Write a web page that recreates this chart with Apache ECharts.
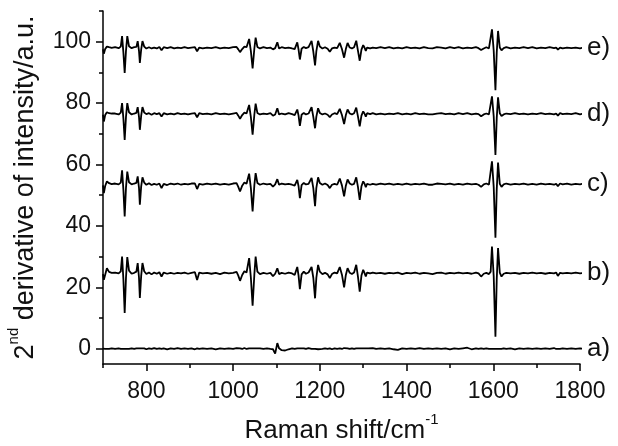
<!DOCTYPE html>
<html><head><meta charset="utf-8">
<script src="https://cdn.jsdelivr.net/npm/echarts@6/dist/echarts.min.js"></script>
<style>html,body{margin:0;padding:0;background:#fff}#c{width:618px;height:446px}</style>
</head><body><div id="c"></div><script>
// Raman shift (cm^-1) sampling positions shared by all traces
const shift = [
 700, 702, 705, 709, 714, 720, 728, 736, 741, 744,
 747, 750, 753, 756, 760, 766, 772, 777, 780, 783,
 785, 788, 791, 795, 800, 806, 812, 818, 824, 830,
 835, 840, 848, 856, 864, 872, 880, 888, 896, 904,
 912, 917, 922, 930, 940, 950, 960, 970, 980, 990,
 1000, 1008, 1012, 1016, 1021, 1026, 1031, 1037, 1041, 1045,
 1049, 1052, 1056, 1062, 1070, 1078, 1086, 1092, 1097, 1102,
 1106, 1112, 1120, 1128, 1136, 1142, 1148, 1151, 1154, 1158,
 1163, 1168, 1174, 1181, 1185, 1189, 1192, 1196, 1200, 1206,
 1212, 1218, 1223, 1228, 1234, 1240, 1246, 1251, 1256, 1260,
 1264, 1269, 1274, 1279, 1284, 1288, 1292, 1296, 1300, 1303,
 1306, 1309, 1312, 1316, 1322, 1330, 1340, 1350, 1360, 1370,
 1380, 1390, 1400, 1410, 1420, 1430, 1440, 1450, 1460, 1470,
 1480, 1490, 1500, 1510, 1520, 1530, 1540, 1550, 1560, 1566,
 1572, 1578, 1584, 1590, 1594, 1597, 1601, 1605, 1608, 1611,
 1615, 1619, 1624, 1630, 1640, 1650, 1660, 1670, 1680, 1690,
 1700, 1710, 1720, 1730, 1740, 1745, 1749, 1754, 1760, 1770,
 1780, 1790, 1800, 1808, 1816
];
// vertical offset of each trace (offset for clarity)
const offsets = [0, 24.6, 53.6, 76.5, 98.0];
const curveLabels = ['a)', 'b)', 'c)', 'd)', 'e)'];
// 2nd derivative values of each trace relative to its offset
const devA = [
 0.0, 0.1, -0.1, 0.1, -0.1, 0.1, -0.1, 0.1, -0.1, 0.1,
 -0.1, 0.1, -0.1, 0.1, -0.1, 0.1, -0.1, 0.1, -0.1, 0.1,
 -0.1, 0.1, -0.1, 0.1, -0.2, 0.1, -0.1, 0.2, -0.1, 0.1,
 -0.1, 0.1, -0.2, 0.1, -0.1, 0.2, -0.1, 0.1, -0.1, 0.1,
 -0.2, 0.1, -0.1, 0.1, -0.1, 0.1, -0.2, 0.1, -0.1, 0.1,
 -0.1, 0.2, -0.1, 0.1, -0.1, 0.2, -0.1, 0.1, -0.2, 0.1,
 -0.1, 0.1, -0.2, 0.1, -0.1, 0.1, -0.1, -0.2, -1.6, 1.8,
 0.1, -0.5, -0.6, -0.2, 0.1, -0.1, 0.1, -0.1, 0.1, -0.1,
 0.1, -0.1, 0.2, -0.1, 0.1, -0.1, 0.1, -0.2, 0.1, -0.1,
 0.1, -0.1, 0.1, -0.2, 0.1, -0.1, 0.1, -0.1, 0.2, -0.1,
 0.1, -0.1, 0.1, -0.1, 0.1, -0.2, 0.1, -0.1, 0.1, -0.1,
 0.1, -0.2, 0.1, -0.1, 0.2, -0.1, 0.1, -0.1, 0.1, -0.2,
 -0.4, 0.1, -0.1, 0.1, -0.1, 0.2, -0.1, 0.1, -0.1, 0.1,
 -0.1, 0.1, -0.2, 0.1, -0.1, 0.1, 0.3, -0.2, 0.1, -0.1,
 0.1, -0.1, 0.1, -0.1, 0.1, -0.1, 0.2, -0.1, 0.1, -0.1,
 0.1, -0.1, 0.1, -0.1, 0.1, -0.2, 0.1, -0.1, 0.1, -0.1,
 0.1, -0.1, 0.1, -0.1, 0.2, -0.1, 0.1, -0.1, 0.1, -0.1,
 0.1, -0.1, 0.1, -0.1, 0.0
];
const devB = [
 -0.3, -2.2, -0.5, 1.6, 0.4, 0.1, 0.2, -0.1, 0.6, 5.4,
 -2.0, -13.0, -1.5, 5.2, 0.8, -0.2, 0.1, 0.5, 3.3, -1.5,
 -8.1, -1.0, 3.3, 0.6, -0.3, 0.2, -0.4, 0.2, -0.2, 0.3,
 -1.1, 0.2, -0.2, 0.1, -0.2, 0.1, -0.1, 0.2, -0.2, 0.1,
 0.3, -2.2, 0.2, -0.1, 0.1, -0.2, 0.1, -0.3, 0.2, -0.1,
 0.1, 0.4, -0.8, -2.5, -0.6, 0.6, 0.2, 4.9, -1.5, -10.6,
 -0.5, 5.4, 0.5, -0.3, 0.1, -0.2, 0.1, -1.0, -0.2, 1.6,
 -0.3, 0.1, -0.2, 0.2, -0.1, -0.6, 2.0, -0.8, -5.2, -0.4,
 0.5, -0.2, 0.2, 2.0, -1.5, -8.2, -1.5, 2.7, 0.5, -0.3,
 0.1, -0.4, -1.6, -0.3, 0.2, -0.1, 2.0, -0.5, -4.6, -0.6,
 1.6, 0.1, -0.3, 0.2, 2.7, -1.2, -6.0, -0.8, 1.1, 0.1,
 -1.1, 0.2, 0.5, -0.1, 0.2, -0.1, 0.1, -0.2, 0.1, -0.1,
 0.2, -0.3, 0.1, -0.1, 0.2, -0.2, 0.1, -0.1, -0.3, 0.1,
 0.2, -0.2, 0.1, -0.1, 0.2, -0.1, 0.1, -0.2, 0.2, -0.1,
 -1.1, -0.2, 0.1, -0.3, 0.5, 8.7, -1.0, -20.7, -2.0, 8.2,
 0.2, -1.1, -0.2, 0.1, -0.1, 0.1, -0.2, 0.1, -0.1, 0.2,
 -0.1, 0.1, -0.2, 0.1, -0.1, 0.2, -0.9, 0.1, -0.1, 0.1,
 -0.1, 0.2, -0.1, 0.1, 0.0
];
const devC = [
 -0.4, -2.9, -0.6, 0.9, 0.3, 0.0, 0.2, -0.1, 0.5, 4.5,
 -1.8, -10.5, -1.2, 4.1, 0.6, -0.1, 0.2, 0.4, 2.5, -1.2,
 -6.7, -0.8, 2.2, 0.5, -0.2, 0.3, -0.3, 0.1, -0.2, 0.2,
 -1.3, 0.1, -0.3, 0.2, -0.1, 0.2, -0.2, 0.1, -0.1, 0.2,
 0.2, -1.6, 0.1, -0.2, 0.2, -0.1, 0.2, -0.2, 0.1, -0.2,
 0.2, 0.3, -0.9, -2.4, -0.5, 0.5, 0.1, 3.4, -1.3, -8.9,
 -0.4, 3.6, 0.4, -0.2, 0.2, -0.1, 0.1, -0.8, -0.1, 1.6,
 -0.2, 0.2, -0.1, 0.1, -0.2, -0.5, 1.4, -0.7, -4.6, -0.3,
 0.4, -0.1, 0.1, 2.0, -1.3, -7.2, -1.2, 2.2, 0.4, -0.2,
 0.2, -0.3, -1.3, -0.2, 0.1, -0.2, 1.8, -0.4, -4.0, -0.5,
 1.5, 0.2, -0.2, 0.1, 2.2, -1.0, -5.1, -0.7, 0.9, 0.2,
 -1.0, 0.1, 0.4, -0.2, 0.1, -0.2, 0.2, -0.1, 0.2, -0.2,
 0.1, -0.2, 0.2, -0.2, 0.1, -0.1, 0.2, -0.2, -0.2, 0.2,
 0.1, -0.1, 0.2, -0.2, 0.1, -0.2, 0.2, -0.1, 0.1, -0.2,
 -0.9, -0.1, 0.2, -0.2, 0.4, 7.4, -0.9, -17.5, -1.7, 7.0,
 0.1, -0.9, -0.1, 0.2, -0.2, 0.1, -0.1, 0.2, -0.2, 0.1,
 -0.2, 0.2, -0.1, 0.1, -0.2, 0.1, -0.7, 0.2, -0.1, 0.2,
 -0.2, 0.1, -0.1, 0.2, 0.0
];
const devD = [
 -0.3, -2.5, -0.4, 0.5, 0.2, 0.1, 0.1, -0.2, 0.4, 3.5,
 -1.5, -8.5, -1.0, 3.5, 0.5, -0.2, 0.1, 0.3, 2.2, -1.0,
 -5.2, -0.7, 2.2, 0.4, -0.1, 0.2, -0.3, 0.2, -0.1, 0.2,
 -0.9, 0.2, -0.2, 0.1, -0.2, 0.2, -0.1, 0.1, -0.2, 0.1,
 0.2, -1.1, 0.2, -0.1, 0.1, -0.2, 0.2, -0.1, 0.1, -0.2,
 0.1, 0.3, -0.6, -1.6, -0.4, 0.4, 0.1, 2.9, -1.1, -6.8,
 -0.3, 3.3, 0.3, -0.2, 0.1, -0.1, 0.2, -0.6, -0.2, 1.8,
 -0.2, 0.1, -0.2, 0.2, -0.1, -0.4, 1.4, -0.6, -3.9, -0.3,
 0.3, -0.2, 0.1, 2.2, -1.0, -4.7, -0.9, 1.8, 0.3, -0.2,
 0.1, -0.3, -1.1, -0.2, 0.2, -0.1, 1.6, -0.4, -3.3, -0.4,
 1.4, 0.1, -0.2, 0.2, 2.0, -0.9, -4.1, -0.6, 0.8, 0.1,
 -0.9, 0.2, 0.3, -0.1, 0.2, -0.2, 0.1, -0.2, 0.1, -0.1,
 0.2, -0.2, 0.1, -0.2, 0.2, -0.1, 0.1, -0.2, -0.2, 0.1,
 0.2, -0.1, 0.1, -0.2, 0.2, -0.1, 0.2, -0.2, 0.1, -0.1,
 -0.8, -0.2, 0.1, -0.2, 0.4, 5.7, -0.8, -13.4, -1.4, 5.4,
 0.2, -0.7, -0.2, 0.1, -0.1, 0.2, -0.1, 0.1, -0.2, 0.1,
 -0.1, 0.2, -0.1, 0.1, -0.2, 0.1, -0.6, 0.2, -0.1, 0.1,
 -0.1, 0.2, -0.2, 0.1, 0.0
];
const devE = [
 -0.5, -1.9, -0.4, 0.4, 0.2, 0.0, 0.2, -0.1, 0.4, 3.8,
 -1.5, -8.2, -1.0, 3.8, 0.5, -0.1, 0.2, 0.3, 2.2, -1.0,
 -4.9, -0.6, 2.2, 0.4, -0.2, 0.2, -0.2, 0.1, -0.2, 0.3,
 -0.8, 0.2, -0.1, 0.2, -0.2, 0.1, -0.1, 0.2, -0.1, 0.1,
 0.2, -1.1, 0.1, -0.2, 0.1, -0.1, 0.2, -0.2, 0.1, -0.1,
 0.2, 0.3, -0.5, -1.4, -0.4, 0.4, 0.2, 2.9, -1.1, -6.7,
 -0.3, 3.3, 0.3, -0.2, 0.2, -0.1, 0.1, -0.5, -0.1, 1.8,
 -0.2, 0.2, -0.1, 0.1, -0.2, -0.4, 1.8, -0.6, -3.8, -0.3,
 0.3, -0.1, 0.2, 2.3, -1.2, -5.7, -1.1, 2.3, 0.4, -0.2,
 0.2, -0.3, -1.3, -0.2, 0.1, -0.1, 1.6, -0.4, -3.2, -0.4,
 1.6, 0.1, -0.2, 0.2, 2.3, -1.0, -4.2, -0.6, 0.9, 0.1,
 -1.0, 0.1, 0.3, -0.2, 0.1, -0.1, 0.2, -0.1, 0.2, -0.2,
 0.1, -0.2, 0.2, -0.1, 0.1, -0.2, 0.2, -0.1, -0.2, 0.2,
 0.1, -0.2, 0.2, -0.1, 0.2, -0.2, 0.1, -0.1, 0.2, -0.1,
 -0.7, -0.2, 0.2, -0.2, 0.4, 6.0, -0.9, -13.8, -1.5, 5.5,
 0.1, -0.8, -0.1, 0.2, -0.2, 0.1, -0.1, 0.2, -0.1, 0.2,
 -0.2, 0.1, -0.1, 0.2, -0.1, 0.1, -0.6, 0.1, -0.2, 0.1,
 -0.1, 0.1, -0.2, 0.1, 0.0
];
const xTicks = [800, 1000, 1200, 1400, 1600, 1800];
const xMinorTicks = [700, 900, 1100, 1300, 1500, 1700];
const yTicks = [0, 20, 40, 60, 80, 100];
const yMinorTicks = [10, 30, 50, 70, 90, 110];

const devs = [devA, devB, devC, devD, devE];
const font = "'Liberation Sans', Arial, sans-serif";
const ink = '#000';
const chart = echarts.init(document.getElementById('c'), null, {renderer: 'canvas'});

const series = devs.map((d, i) => ({
  type: 'line',
  xAxisIndex: 0, yAxisIndex: 0,
  data: shift.map((x, k) => [x, +(offsets[i] + d[k]).toFixed(2)]),
  showSymbol: false, symbol: 'none', clip: false, animation: false,
  lineStyle: {color: ink, width: 1.8},
  emphasis: {disabled: true},
  endLabel: {show: true, formatter: curveLabels[i], distance: 5, fontSize: 26, fontFamily: font, color: '#111'}
}));

const tickLine = {color: ink, width: 1.5};
const plain = v => String(v);
chart.setOption({
  animation: false,
  backgroundColor: '#fff',
  grid: {left: 103, right: 38, top: 11, bottom: 82, containLabel: false, outerBoundsMode: 'none'},
  xAxis: [{
    type: 'value', min: 700, max: 1800, position: 'bottom',
    axisLine: {show: true, onZero: false, lineStyle: tickLine},
    axisTick: {show: true, inside: false, length: 7, customValues: xTicks, lineStyle: tickLine},
    axisLabel: {customValues: xTicks, formatter: plain, fontSize: 23, fontFamily: font, color: '#111', margin: 16},
    splitLine: {show: false},
    name: '{m|Raman shift/cm}{s|-1}',
    nameLocation: 'middle', nameGap: 48,
    nameTextStyle: {rich: {
      m: {fontSize: 26, fontFamily: font, color: '#111', lineHeight: 32, verticalAlign: 'bottom'},
      s: {fontSize: 15, fontFamily: font, color: '#111', verticalAlign: 'top'}
    }}
  }, {
    type: 'value', min: 700, max: 1800, position: 'bottom',
    axisLine: {show: false, onZero: false},
    axisTick: {show: true, inside: false, length: 4, customValues: xMinorTicks, lineStyle: tickLine},
    axisLabel: {show: false},
    splitLine: {show: false}
  }],
  yAxis: [{
    type: 'value', min: -5, max: 110, position: 'left',
    axisLine: {show: true, onZero: false, lineStyle: tickLine},
    axisTick: {show: true, inside: false, length: 7, customValues: yTicks, lineStyle: tickLine},
    axisLabel: {customValues: yTicks, formatter: plain, fontSize: 23, fontFamily: font, color: '#111', margin: 12},
    splitLine: {show: false},
    name: '{m|2}{s|nd}{m| derivative of intensity/a.u.}',
    nameLocation: 'middle', nameGap: 64,
    nameTextStyle: {rich: {
      m: {fontSize: 27, fontFamily: font, color: '#111', lineHeight: 33, verticalAlign: 'bottom'},
      s: {fontSize: 15, fontFamily: font, color: '#111', verticalAlign: 'top'}
    }}
  }, {
    type: 'value', min: -5, max: 110, position: 'left',
    axisLine: {show: false, onZero: false},
    axisTick: {show: true, inside: false, length: 4, customValues: yMinorTicks, lineStyle: tickLine},
    axisLabel: {show: false},
    splitLine: {show: false}
  }],
  series: series
});
</script></body></html>
